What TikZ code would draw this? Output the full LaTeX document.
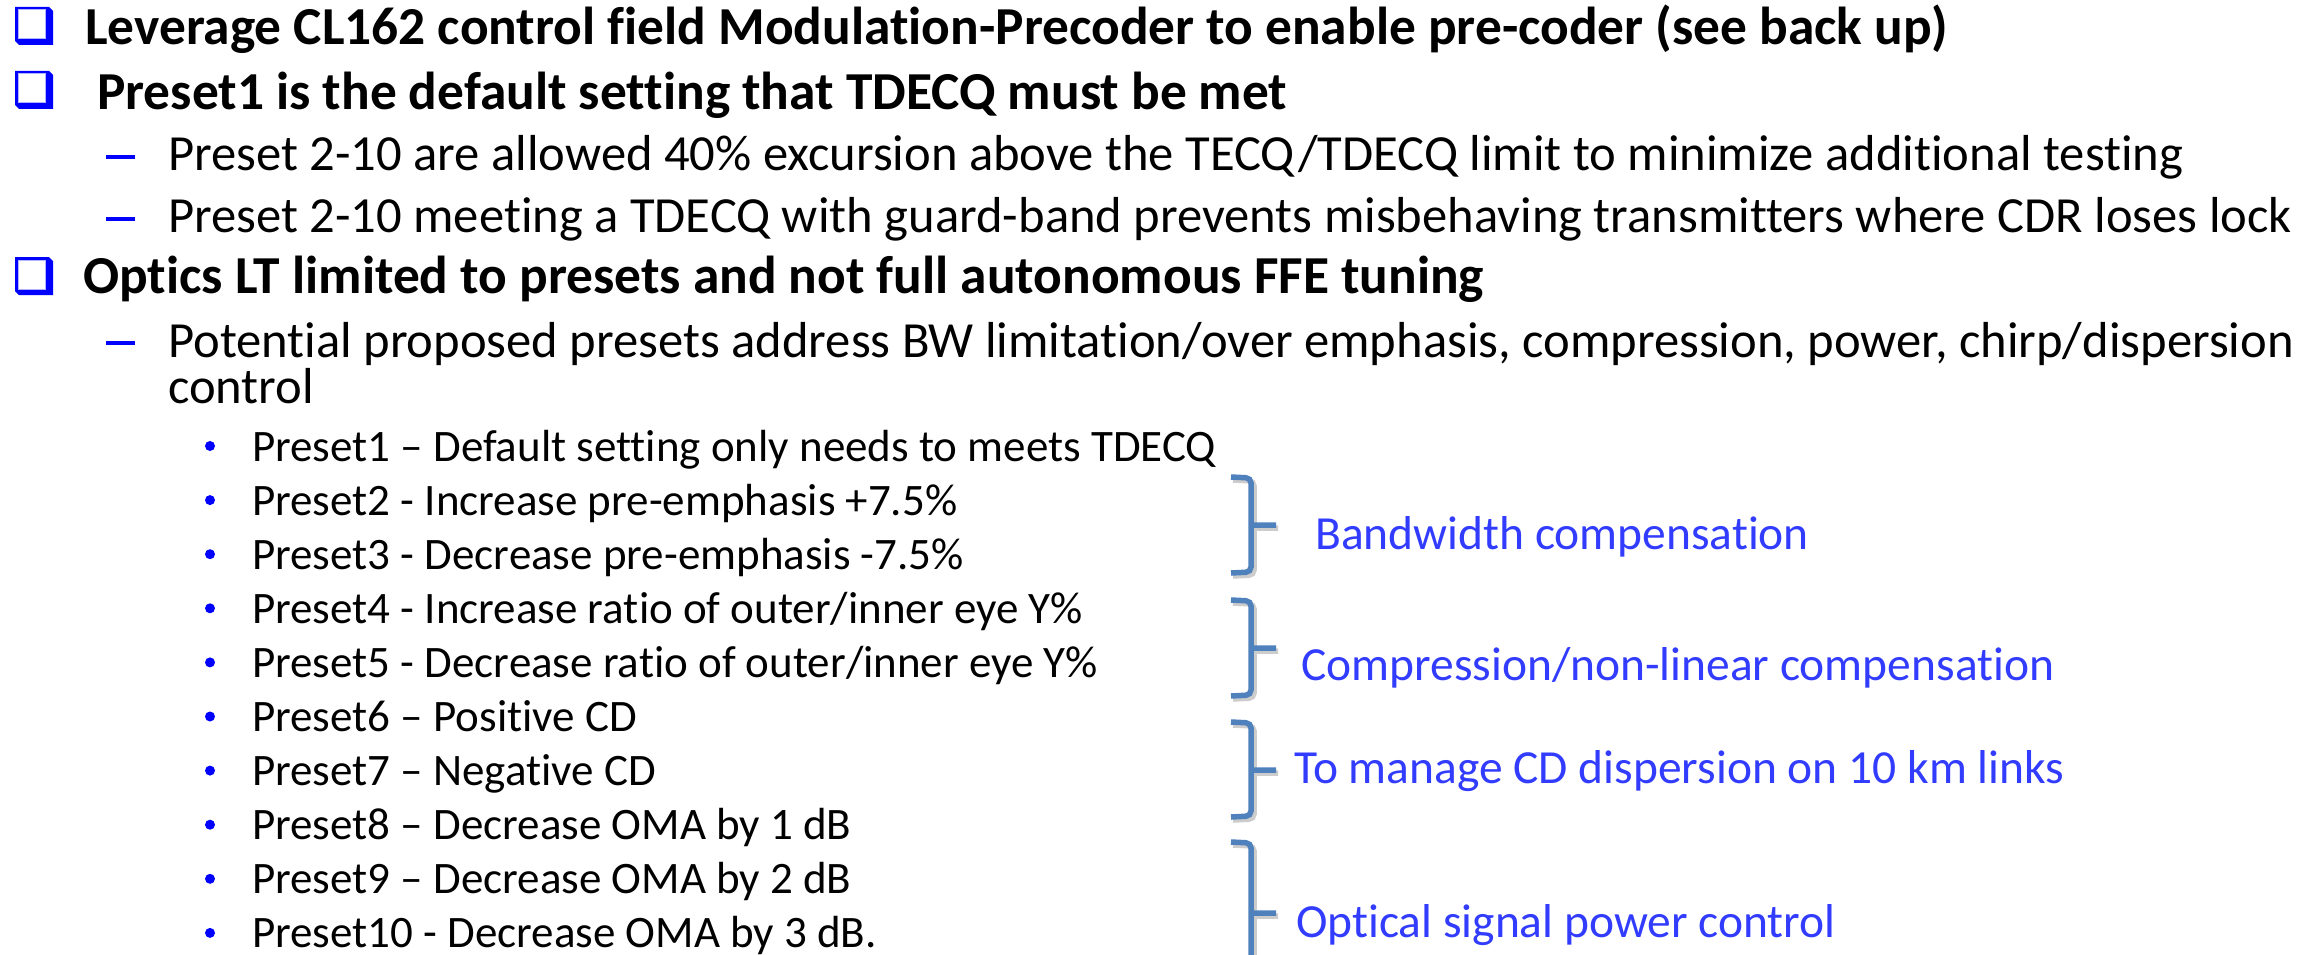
\documentclass[tikz,border=0pt]{standalone}
\usepackage{fontspec}
\setmainfont{Carlito}[Ligatures=NoCommon]
\definecolor{bl}{rgb}{0,0,1}
\definecolor{lb}{RGB}{50,60,255}
\definecolor{br}{RGB}{79,129,189}
\tikzstyle{head}=[anchor=base west,inner sep=0pt,font=\fontsize{53.4}{60}\selectfont\bfseries]
\tikzstyle{sub}=[anchor=base west,inner sep=0pt,font=\fontsize{50.6}{60}\selectfont]
\tikzstyle{item}=[anchor=base west,inner sep=0pt,font=\fontsize{45}{50}\selectfont]
\tikzstyle{lbl}=[anchor=base west,inner sep=0pt,text=lb,font=\fontsize{47.5}{55}\selectfont]
\tikzstyle{blt}=[circle,fill=bl,minimum size=10pt,inner sep=0pt]
\tikzstyle{bar}=[rectangle,fill=bl,minimum width=29pt,minimum height=4pt,inner sep=0pt]
\tikzstyle{brace}=[draw=br,line width=5.5pt,rounded corners=5pt]
\tikzstyle{shade}=[draw=black!20,line width=5.5pt,rounded corners=5pt]
\tikzset{chk/.pic={
	\fill[bl] (0,0) -- (34,0) -- (38,4) -- (38,38) -- (4,38) -- (0,34) -- cycle;
	\fill[white] (3,3) rectangle (30,32);
	\draw[bl!30,line width=1pt] (3,3) rectangle (30,32);
}}

\begin{document}
\begin{tikzpicture}[x=1pt,y=-1pt]
	\useasboundingbox[fill=white] (0,0) rectangle (2323,955);
	% top level
	\pic at (15,7) {chk};
	\node[head] (l1) at (85,45) {Leverage CL162 control field Modulation-Precoder to enable pre-coder (see back up)};
	\pic at (15,71) {chk};
	\node[head] (l2) at (97,110) {Preset1 is the default setting that TDECQ must be met};
	\node[bar] (d1) at (120.5,157) {};
	\node[sub] (s1) at (168,170) {Preset 2-10 are allowed 40\% excursion above the TECQ/TDECQ limit to minimize additional testing};
	\node[bar] (d2) at (120.5,219) {};
	\node[sub] (s2) at (168,232) {Preset 2-10 meeting a TDECQ with guard-band prevents misbehaving transmitters where CDR loses lock};
	\pic at (15,257) {chk};
	\node[head] (l3) at (83,293) {Optics LT limited to presets and not full autonomous FFE tuning};
	\node[bar] (d3) at (120.5,343) {};
	\node[sub] (s3) at (168,357) {Potential proposed presets address BW limitation/over emphasis, compression, power, chirp/dispersion};
	\node[sub] (s3b) at (168,403) {control};
	% presets
	\node[blt] (b1) at (210,446) {};
	\node[item] (p1) at (252,461) {Preset1 – Default setting only needs to meets TDECQ};
	\node[blt] (b2) at (210,500.1) {};
	\node[item] (p2) at (252,515.1) {Preset2 - Increase pre-emphasis +7.5\%};
	\node[blt] (b3) at (210,554.2) {};
	\node[item] (p3) at (252,569.2) {Preset3 - Decrease pre-emphasis -7.5\%};
	\node[blt] (b4) at (210,608.3) {};
	\node[item] (p4) at (252,623.3) {Preset4 - Increase ratio of outer/inner eye Y\%};
	\node[blt] (b5) at (210,662.4) {};
	\node[item] (p5) at (252,677.4) {Preset5 - Decrease ratio of outer/inner eye Y\%};
	\node[blt] (b6) at (210,716.5) {};
	\node[item] (p6) at (252,731.5) {Preset6 – Positive CD};
	\node[blt] (b7) at (210,770.6) {};
	\node[item] (p7) at (252,785.6) {Preset7 – Negative CD};
	\node[blt] (b8) at (210,824.7) {};
	\node[item] (p8) at (252,839.7) {Preset8 – Decrease OMA by 1 dB};
	\node[blt] (b9) at (210,878.8) {};
	\node[item] (p9) at (252,893.8) {Preset9 – Decrease OMA by 2 dB};
	\node[blt] (b10) at (210,932.9) {};
	\node[item] (p10) at (252,947.9) {Preset10 - Decrease OMA by 3 dB.};
	% braces
	\begin{scope}
	\clip (0,0) rectangle (2323,955);
	\draw[shade] (1233,480) -- (1254,481) -- (1254,575) -- (1233,576) (1254,528) -- (1278,528);
	\draw[brace] (1231,477) -- (1251,478) -- (1251,572) -- (1231,573) (1251,525) -- (1276,525);
	\draw[shade] (1233,603) -- (1254,604) -- (1254,698) -- (1233,699) (1254,651) -- (1278,651);
	\draw[brace] (1231,600) -- (1251,601) -- (1251,695) -- (1231,696) (1251,648) -- (1276,648);
	\draw[shade] (1233,725) -- (1254,726) -- (1254,819) -- (1233,820) (1254,773) -- (1278,773);
	\draw[brace] (1231,722) -- (1251,723) -- (1251,816) -- (1231,817) (1251,770) -- (1276,770);
	\draw[shade] (1233,845) -- (1254,846) -- (1254,990) (1254,916) -- (1278,916);
	\draw[brace] (1231,842) -- (1251,843) -- (1251,990) (1251,913) -- (1276,913);
	\end{scope}
	\node[lbl] (bw) at (1315,549) {Bandwidth compensation};
	\node[lbl] (cn) at (1301,680) {Compression/non-linear compensation};
	\node[lbl] (cd) at (1294,783) {To manage CD dispersion on 10 km links};
	\node[lbl] (op) at (1296,937) {Optical signal power control};
\end{tikzpicture}
\end{document}
